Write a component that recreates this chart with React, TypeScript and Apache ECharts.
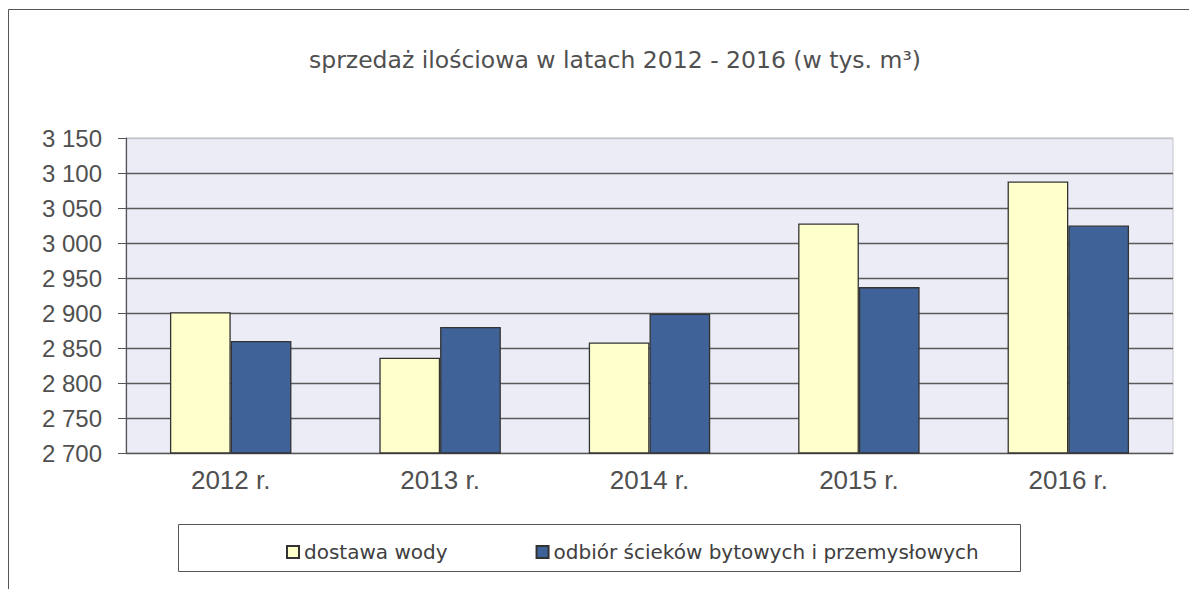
import React, { useEffect, useRef } from "react";
import * as echarts from "echarts";

const categories = ["2012 r.", "2013 r.", "2014 r.", "2015 r.", "2016 r."];
const dostawaWody = [2901, 2836, 2858, 3028, 3088];
const odbiorSciekow = [2860, 2880, 2899, 2937, 3025];
const seriesNames = ["dostawa wody", "odbiór ścieków bytowych i przemysłowych"];
const titleText = "sprzedaż ilościowa w latach 2012 - 2016 (w tys. m³)";
const yMin = 2700;
const yMax = 3150;
const yStep = 50;

const fmt = (v: number) => {
  const s = String(Math.round(v));
  return s.replace(/\B(?=(\d{3})+(?!\d))/g, " ");
};

export default function App() {
  const ref = useRef<HTMLDivElement>(null);
  useEffect(() => {
    if (!ref.current) return;
    const chart = echarts.init(ref.current, undefined, { renderer: "svg" });
    const nLines = Math.round((yMax - yMin) / yStep) + 1;
    const splitColors = Array.from({ length: nLines }, (_, i) =>
      i === nLines - 1 ? "#c4c4cc" : "#5a5a5a"
    );
    chart.setOption({
      animation: false,
      backgroundColor: "#ffffff",
      title: {
        text: titleText,
        left: 610,
        textAlign: "center",
        top: 43,
        textStyle: {
          fontFamily: "DejaVu Sans",
          fontWeight: "normal",
          fontSize: 23.5,
          color: "#505050",
        },
      },
      graphic: [
        {
          type: "rect",
          shape: { x: 8.5, y: 9.5, width: 1300, height: 700 },
          style: { fill: "none", stroke: "#555", lineWidth: 1 },
          silent: true,
          z: -10,
        },
        {
          type: "rect",
          shape: { x: 178.5, y: 524.5, width: 842, height: 47 },
          style: { fill: "none", stroke: "#555", lineWidth: 1 },
          silent: true,
        },
      ],
      legend: {
        left: 281,
        top: 537,
        itemWidth: 12,
        itemHeight: 12,
        itemGap: 88,
        icon: "rect",
        textStyle: {
          fontFamily: "DejaVu Sans",
          fontSize: 20,
          color: "#404040",
        },
        data: seriesNames,
      },
      grid: {
        left: 126,
        right: 16,
        top: 138,
        bottom: 136,
        show: true,
        backgroundColor: "#ececf7",
        borderColor: "#c4c4cc",
        borderWidth: 1,
      },
      xAxis: {
        type: "category",
        data: categories,
        axisLine: { lineStyle: { color: "#555", width: 1.2 } },
        axisTick: { length: 7, lineStyle: { color: "#555" } },
        axisLabel: {
          fontFamily: "Liberation Sans",
          fontSize: 26,
          color: "#505050",
          margin: 14,
        },
      },
      yAxis: {
        type: "value",
        min: yMin,
        max: yMax,
        interval: yStep,
        axisLine: { show: true, lineStyle: { color: "#555", width: 1.2 } },
        axisTick: { show: true, length: 8, lineStyle: { color: "#555" } },
        axisLabel: {
          fontFamily: "Liberation Sans",
          fontSize: 24,
          color: "#505050",
          margin: 24,
          formatter: (v: number) => fmt(v),
        },
        splitLine: { show: true, lineStyle: { color: splitColors, width: 1.3 } },
      },
      series: [
        {
          name: seriesNames[0],
          type: "bar",
          data: dostawaWody,
          barGap: "0%",
          barCategoryGap: "42%",
          itemStyle: { color: "#ffffcc", borderColor: "#333333", borderWidth: 1.3 },
        },
        {
          name: seriesNames[1],
          type: "bar",
          data: odbiorSciekow,
          itemStyle: { color: "#3f6398", borderColor: "#333333", borderWidth: 1.3 },
        },
      ],
    });
    return () => chart.dispose();
  }, []);
  return (
    <div
      ref={ref}
      style={{ position: "absolute", left: 0, top: 0, width: 1189, height: 589 }}
    />
  );
}
